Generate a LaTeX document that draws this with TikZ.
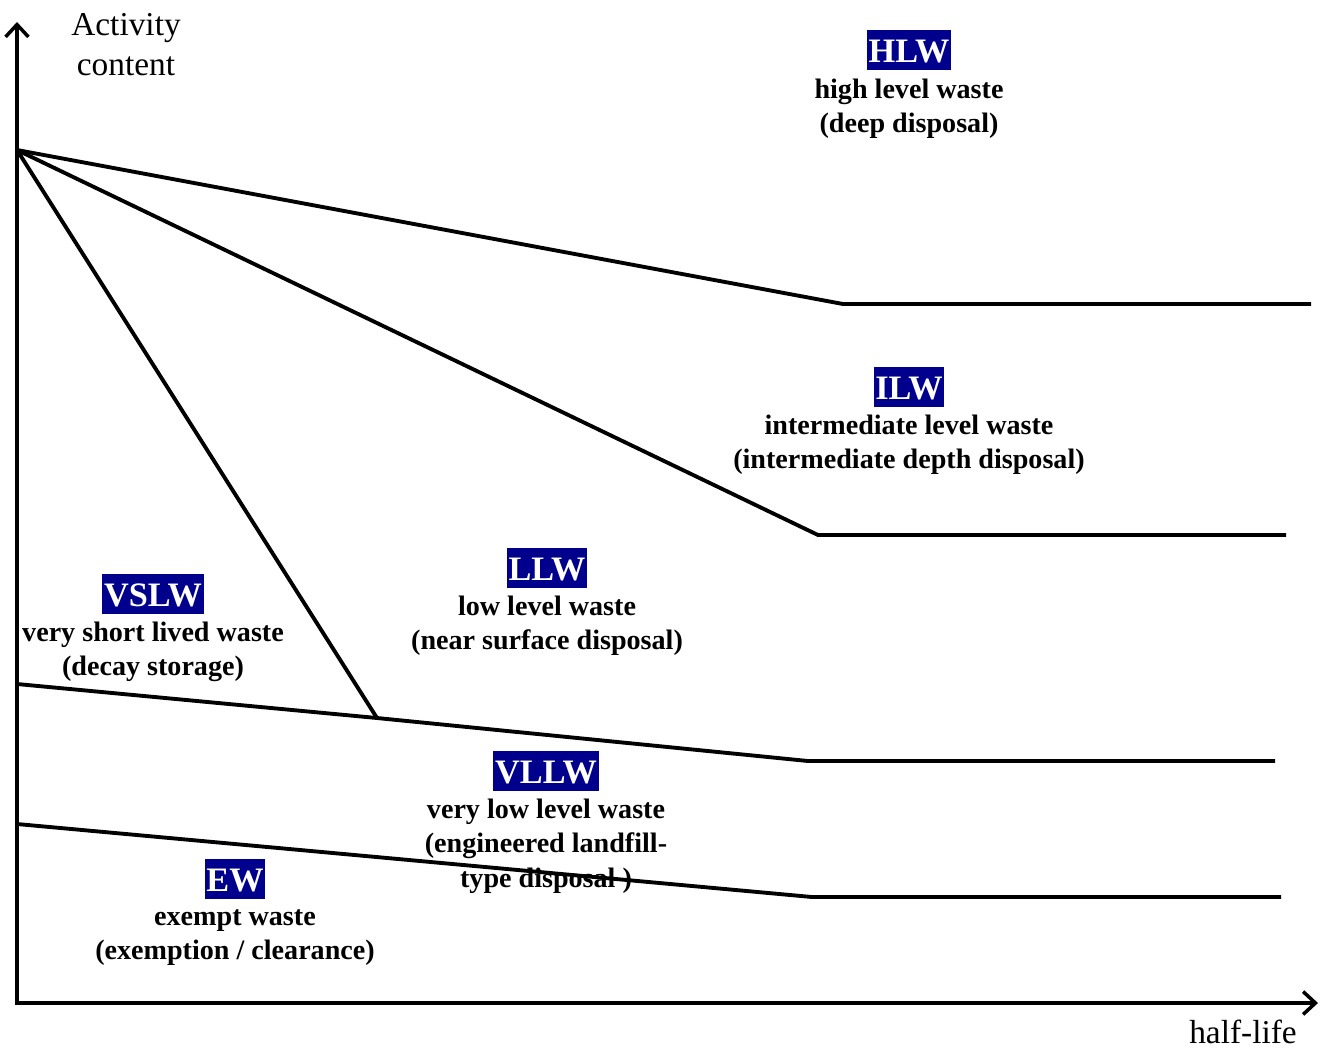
\documentclass[tikz,border=0pt]{standalone}
\usepackage{fontspec}
\setmainfont{Liberation Serif}
\usepackage{xcolor}
\usetikzlibrary{arrows.meta}

\definecolor{wasteblue}{RGB}{0,0,140}

\tikzset{
	axis/.style = {line width = 1.8pt, {Straight Barb[length = 7pt, width = 13pt, line width = 2pt]}-{Straight Barb[length = 7pt, width = 13pt, line width = 2pt]}},
	boundary/.style = {line width = 2.2pt},
	wastebox/.style = {fill = wasteblue, text = white, font = \fontsize{19.5}{20}\selectfont\bfseries, inner xsep = 1pt, inner ysep = 0pt, text height = 14pt, text depth = 0pt, minimum height = 22.5pt},
	wastetext/.style = {font = \fontsize{16}{19.4}\selectfont\bfseries, align = center, anchor = north, inner sep = 0pt},
	axislabel/.style = {font = \fontsize{19}{22.8}\selectfont, align = center, inner sep = 0pt},
}

\begin{document}
\begin{tikzpicture}[x = 0.02cm, y = -0.02cm]
		\useasboundingbox (0,0) rectangle (1321,1049);
		
		% axes
		\coordinate (axis top) at (17,22);
		\coordinate (corner) at (17,1003);
		\coordinate (axis right) at (1318,1003);
		\draw [axis] (axis top) -- (corner) -- (axis right);
		
		\node [axislabel, anchor = north] (activity) at (126,13) {Activity\\content};
		\node [axislabel] (halflife) at (1243,1032) {half-life};
		
		% boundaries between classes
		\coordinate (apex) at (17,150);
		\coordinate (HLW knee) at (843,304);
		\coordinate (HLW end) at (1311,304);
		\coordinate (ILW knee) at (818,535);
		\coordinate (ILW end) at (1286,535);
		\coordinate (VSLW start) at (17,684);
		\coordinate (VSLW foot) at (377,718);
		\coordinate (LLW knee) at (808,761);
		\coordinate (LLW end) at (1275,761);
		\coordinate (EW start) at (17,824);
		\coordinate (EW knee) at (812,897);
		\coordinate (EW end) at (1281,897);
		
		\draw [boundary] (apex) -- (HLW knee) -- (HLW end);
		\draw [boundary] (apex) -- (ILW knee) -- (ILW end);
		\draw [boundary] (apex) -- (VSLW foot);
		\draw [boundary] (VSLW start) -- (VSLW foot) -- (LLW knee) -- (LLW end);
		\draw [boundary] (EW start) -- (EW knee) -- (EW end);
		
		% class labels
		\node [wastebox] (HLW) at (909,50) {HLW};
		\node [wastetext] (HLW text) at (909,79) {high level waste\\(deep disposal)};
		
		\node [wastebox] (ILW) at (909,387) {ILW};
		\node [wastetext] (ILW text) at (909,415) {intermediate level waste\\(intermediate depth disposal)};
		
		\node [wastebox] (LLW) at (547,568) {LLW};
		\node [wastetext] (LLW text) at (547,596) {low level waste\\(near surface disposal)};
		
		\node [wastebox] (VSLW) at (153,594) {VSLW};
		\node [wastetext] (VSLW text) at (153,622) {very short lived waste\\(decay storage)};
		
		\node [wastebox] (VLLW) at (546,771) {VLLW};
		\node [wastetext] (VLLW text) at (546,799) {very low level waste\\(engineered landfill-\\type disposal )};
		
		\node [wastebox] (EW) at (235,879) {EW};
		\node [wastetext] (EW text) at (235,909) {exempt waste\\(exemption / clearance)};
	\end{tikzpicture}
\end{document}
